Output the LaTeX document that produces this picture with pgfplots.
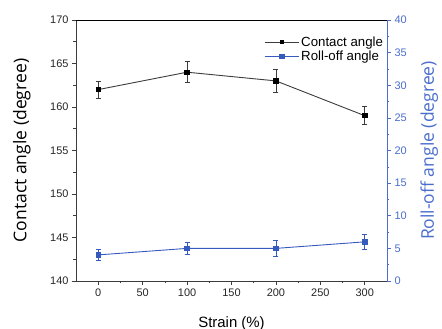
\documentclass[border=0pt]{standalone}
\usepackage{pgfplots}
\pgfplotsset{compat=1.18}
\usepackage{fontspec}
\setmainfont{Liberation Sans}
\newfontfamily\labfont{Open Sans}
\definecolor{ro}{RGB}{55,90,190}
\definecolor{rax}{RGB}{75,110,205}
\definecolor{cax}{RGB}{60,60,60}
\begin{document}
\begin{tikzpicture}
\useasboundingbox (-76bp,-48bp) rectangle (366bp,281bp);
\begin{axis}[
  at={(0,0)}, anchor=south west,
  scale only axis, width=311bp, height=261bp,
  xmin=-25, xmax=325, ymin=140, ymax=170,
  xtick={0,50,...,300}, minor x tick num=1,
  ytick={140,145,...,170}, minor y tick num=1,
  axis y line*=left, axis x line*=bottom,
  axis line style={cax, line width=0.8pt},
  tick align=outside, major tick length=4bp, minor tick length=2.5bp,
  tick style={cax, line width=0.6pt},
  tick label style={font=\fontsize{11}{13}\selectfont, text=black!85},
  /pgf/number format/assume math mode=true,
  ylabel={\labfont\fontsize{17.6}{19}\selectfont Contact angle (degree)},
  ylabel style={at={(axis description cs:0,0.5)}, anchor=south, yshift=42bp},
  xlabel={\fontsize{15}{17}\selectfont Strain (\%)},
  xlabel style={at={(axis description cs:0.5,0)}, anchor=north, yshift=-32bp},
  clip=false,
]
\addplot[cax, line width=0.9pt, mark=square*, mark size=2.2pt, mark options={fill=black, draw=black},
  error bars/.cd, y dir=both, y explicit,
  error bar style={cax, line width=0.7pt}, error mark options={rotate=90, mark size=2.5pt, cax, line width=0.7pt}]
  coordinates {
  (0,162) +- (0,1.0)
  (100,164) +- (0,1.2)
  (200,163) +- (0,1.35)
  (300,159) +- (0,1.05)
  };
\end{axis}
\begin{axis}[
  at={(0,0)}, anchor=south west,
  scale only axis, width=311bp, height=261bp,
  xmin=-25, xmax=325, ymin=0, ymax=40,
  axis x line=none,
  axis y line*=right,
  ytick={0,5,...,40}, minor y tick num=1,
  axis line style={rax, line width=0.8pt},
  tick align=outside, major tick length=4bp, minor tick length=2.5bp,
  tick style={rax, line width=0.6pt},
  tick label style={font=\fontsize{11}{13}\selectfont, text=rax},
  /pgf/number format/assume math mode=true,
  ylabel={\labfont\fontsize{17.6}{19}\selectfont Roll-off angle (degree)},
  ylabel style={rax, yshift=-7bp},
  legend style={at={(0.605,0.945)}, anchor=north west, draw=none, fill=none,
    font=\fontsize{13.3}{15}\selectfont, inner sep=0pt, row sep=-1bp,
    /tikz/every even column/.append style={column sep=2bp}},
  legend cell align=left,
  legend image code/.code={\draw[#1, mark repeat=2, mark phase=2] plot coordinates {(0bp,0bp) (17bp,0bp) (34bp,0bp)};},
  clip=false,
]
\draw[black, line width=0.8pt] (rel axis cs:0,1) -- (rel axis cs:1,1);
\addlegendimage{cax, line width=0.9pt, mark=square*, mark size=1.6pt, mark options={fill=black, draw=black}}
\addlegendentry{Contact angle}
\addplot[ro, line width=0.9pt, mark=square*, mark size=2.2pt, mark options={fill=ro, draw=ro},
  error bars/.cd, y dir=both, y explicit,
  error bar style={ro, line width=0.7pt}, error mark options={rotate=90, mark size=2.5pt, ro, line width=0.7pt}]
  coordinates {
  (0,4) +- (0,0.85)
  (100,5) +- (0,0.95)
  (200,5) +- (0,1.2)
  (300,6) +- (0,1.2)
  };
\addlegendentry{Roll-off angle}
\end{axis}
\end{tikzpicture}
\end{document}
